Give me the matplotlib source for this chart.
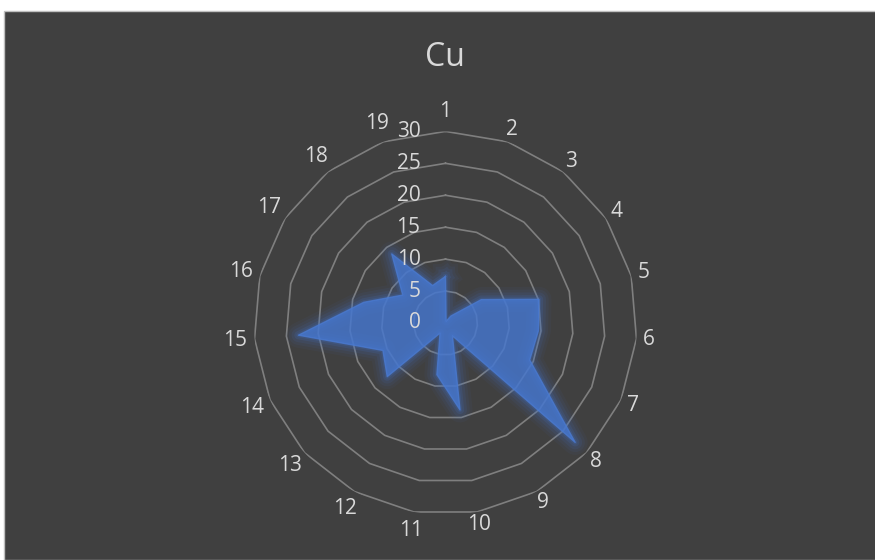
import matplotlib
matplotlib.use("Agg")
import matplotlib.pyplot as plt
import numpy as np
from matplotlib.patches import Rectangle

# Radar chart of Cu values over 19 sampling points

categories = [str(i) for i in range(1, 20)]
cu_values = [7.3, 0.3, 1.4, 6.7, 15.1, 14.6, 14.4, 27.6, 2.3, 13.8,
             8.2, 1.8, 12.4, 10.7, 23.1, 13.2, 8.0, 13.7, 6.2]
ring_values = [5, 10, 15, 20, 25, 30]
tick_labels = ["0", "5", "10", "15", "20", "25", "30"]

bg = "#404040"
text_col = "#d9d9d9"
grid_col = "#7f7f7f"
fill_col = "#4472C4"
font = "Open Sans"

fig = plt.figure(figsize=(8.75, 5.6), dpi=100, facecolor="white")
# dark chart area with a thin light border
fig.patches.append(Rectangle((4 / 875, 0), 1, 549 / 560, transform=fig.transFigure,
                             facecolor=bg, edgecolor="#bfbfbf", lw=1, zorder=-10))

# axes placed so the centre sits at (445.5, 323) px with radius 191.6 px
R = 191.6
cx, cy = 445.5, 560 - 323
ax = fig.add_axes([(cx - R) / 875, (cy - R) / 560, 2 * R / 875, 2 * R / 560],
                  projection="polar")
ax.set_facecolor("none")
ax.set_theta_offset(np.pi / 2)
ax.set_theta_direction(-1)
ax.set_ylim(0, 30)
ax.grid(False)
ax.spines["polar"].set_visible(False)
ax.set_xticks([])
ax.set_yticks([])

n = len(categories)
angles = np.arange(n) * 2 * np.pi / n
closed_ang = np.append(angles, angles[0])

# polygon grid rings
for r in ring_values:
    ax.plot(closed_ang, [r] * (n + 1), color=grid_col, lw=1.2, zorder=1)

# data polygon with a soft glow
vals = np.append(cu_values, cu_values[0])
for w, a in [(18, 0.06), (14, 0.08), (10, 0.11), (6, 0.16), (3, 0.2)]:
    ax.plot(closed_ang, vals, color=fill_col, lw=w, alpha=a,
            solid_joinstyle="round", zorder=2)
ax.fill(closed_ang, vals, color="#4677cf", alpha=0.82, lw=0, zorder=3)
ax.plot(closed_ang, vals, color="#4a7ad0", lw=1.0, alpha=0.8, zorder=3)

# radial tick labels left of the vertical axis
for v, lab in zip([0] + ring_values, tick_labels):
    ax.annotate(lab, xy=(0, v), xytext=(-18, 0), textcoords="offset points",
                ha="right", va="center", color=text_col, fontsize=15,
                family=font, zorder=5, annotation_clip=False)

# category labels around the outside
for ang, lab in zip(angles, categories):
    s, c = np.sin(ang), np.cos(ang)
    r = 32.0
    if len(lab) == 2 and s < 0:
        r += 1.0
    if c > 0.95:
        r += 1.1
    ax.text(ang, r, lab, ha="center", va="center", color=text_col,
            fontsize=15, family=font, zorder=5)

fig.text(445 / 875, 1 - 66 / 560, "Cu", ha="center", va="baseline",
         color=text_col, fontsize=23, family=font)

fig.savefig("out.png", dpi=100, facecolor=fig.get_facecolor())
